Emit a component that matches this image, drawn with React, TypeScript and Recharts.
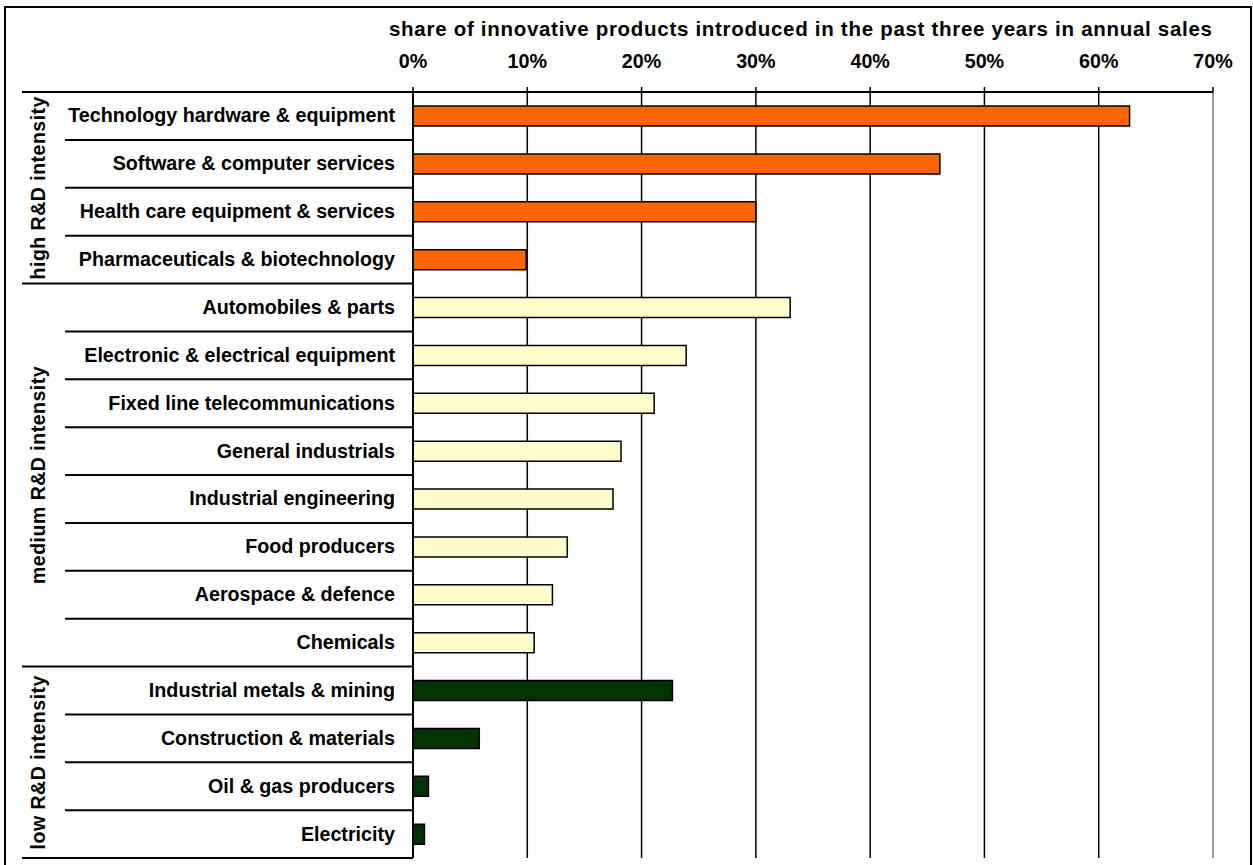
import React from 'react';
import { BarChart, Bar, XAxis, YAxis, CartesianGrid, Cell, ReferenceLine } from 'recharts';

const categories = [
  'Technology hardware & equipment',
  'Software & computer services',
  'Health care equipment & services',
  'Pharmaceuticals & biotechnology',
  'Automobiles & parts',
  'Electronic & electrical equipment',
  'Fixed line telecommunications',
  'General industrials',
  'Industrial engineering',
  'Food producers',
  'Aerospace & defence',
  'Chemicals',
  'Industrial metals & mining',
  'Construction & materials',
  'Oil & gas producers',
  'Electricity',
];

const shareValues = [62.7, 46.1, 30.0, 9.9, 33.0, 23.9, 21.1, 18.2, 17.5, 13.5, 12.2, 10.6, 22.7, 5.8, 1.35, 1.0];

const groupNames = ['high R&D intensity', 'medium R&D intensity', 'low R&D intensity'];
const groupSizes = [4, 8, 4];
const groupColors = ['#FF6600', '#FFFFCC', '#003300'];

const xTicks = [0, 10, 20, 30, 40, 50, 60, 70];
const title = 'share of innovative products introduced in the past three years in annual sales';

const W = 1253;
const H = 865;
const MARGIN = { top: 0, right: 40, bottom: 7, left: 0 };
const X_AXIS_H = 92;
const Y_AXIS_W = 413;
const FONT = '"Liberation Sans", Arial, Helvetica, sans-serif';

const groupOf: number[] = [];
groupSizes.forEach((n, g) => {
  for (let k = 0; k < n; k++) groupOf.push(g);
});
const groupStarts: number[] = [];
const groupEnds: number[] = [];
{
  let acc = 0;
  groupSizes.forEach((n) => {
    groupStarts.push(acc);
    groupEnds.push(acc + n - 1);
    acc += n;
  });
}

const data = categories.map((name, i) => ({ name, value: shareValues[i], group: groupOf[i] }));

const PLOT_H = H - MARGIN.top - MARGIN.bottom - X_AXIS_H;
const BAND = PLOT_H / categories.length;

const YTick = (props: any) => {
  const { y, payload } = props;
  const i: number = props.index ?? payload.index ?? categories.indexOf(payload.value);
  const axisX = MARGIN.left + Y_AXIS_W;
  const top = y - BAND / 2;
  const bottom = y + BAND / 2;
  const isEnd = groupEnds.includes(i);
  const gStart = groupStarts.indexOf(i);
  return (
    <g>
      {i === 0 && <line x1={22} x2={axisX} y1={top} y2={top} stroke="#000" strokeWidth={2} />}
      <line x1={isEnd ? 22 : 65} x2={axisX} y1={bottom} y2={bottom} stroke="#000" strokeWidth={2} />
      <text
        x={axisX - 18}
        y={y}
        dy={6.5}
        textAnchor="end"
        fontFamily={FONT}
        fontWeight="bold"
        fontSize={19.7}
        fill="#000"
      >
        {payload.value}
      </text>
      {gStart >= 0 && (() => {
        const cy = top + (groupSizes[gStart] * BAND) / 2;
        const cx = 45;
        return (
          <text
            x={cx}
            y={cy}
            transform={`rotate(-90, ${cx}, ${cy})`}
            textAnchor="middle"
            fontFamily={FONT}
            fontWeight="bold"
            fontSize={19.5}
            letterSpacing={0.5}
            fill="#000"
          >
            {groupNames[gStart]}
          </text>
        );
      })()}
    </g>
  );
};

export default function App() {
  return (
    <div style={{ position: 'absolute', left: 0, top: 0, width: W, height: H, overflow: 'hidden', background: '#fff' }}>
      <svg width={W} height={H} style={{ position: 'absolute', left: 0, top: 0 }}>
        <rect x={5} y={7} width={1246} height={880} fill="#fff" stroke="#000" strokeWidth={2} />
        <text
          x={389}
          y={36}
          textLength={823}
          lengthAdjust="spacing"
          fontFamily={FONT}
          fontWeight="bold"
          fontSize={20.5}
          fill="#000"
        >
          {title}
        </text>
      </svg>
      <div style={{ position: 'absolute', left: 0, top: 0 }}>
        <BarChart width={W} height={H} data={data} layout="vertical" margin={MARGIN} barSize={20}>
          <CartesianGrid horizontal={false} vertical={true} stroke="#000" strokeWidth={1.5} />
          <XAxis
            type="number"
            orientation="top"
            domain={[0, 70]}
            ticks={xTicks}
            tickFormatter={(v: number) => `${v}%`}
            height={X_AXIS_H}
            axisLine={{ stroke: '#000', strokeWidth: 2 }}
            tickLine={{ stroke: '#000', strokeWidth: 1.5 }}
            tickSize={5}
            tickMargin={19}
            tick={{ fill: '#000', fontSize: 19.7, fontWeight: 'bold', fontFamily: FONT }}
            interval={0}
          />
          <XAxis
            xAxisId="bottom"
            type="number"
            orientation="bottom"
            domain={[0, 70]}
            height={0}
            tick={false}
            tickLine={false}
            axisLine={{ stroke: '#999', strokeWidth: 2 }}
          />
          <YAxis
            type="category"
            dataKey="name"
            width={Y_AXIS_W}
            axisLine={{ stroke: '#000', strokeWidth: 2 }}
            tickLine={false}
            tick={<YTick />}
            interval={0}
          />
          <ReferenceLine x={70} stroke="#999" strokeWidth={2} />
          <Bar dataKey="value" stroke="#000" strokeWidth={1.5} isAnimationActive={false}>
            {data.map((d, i) => (
              <Cell key={i} fill={groupColors[d.group]} />
            ))}
          </Bar>
        </BarChart>
      </div>
    </div>
  );
}
